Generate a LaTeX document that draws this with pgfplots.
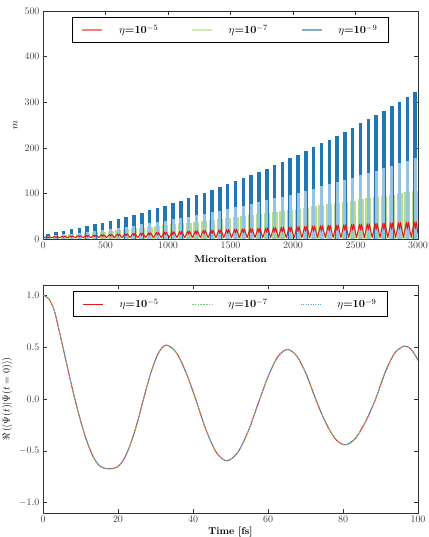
\documentclass[border=0pt]{standalone}
\usepackage{pgfplots}
\usepackage{pgfplotstable}
\pgfplotsset{compat=1.18}

\definecolor{cred}{RGB}{227,26,28}
\definecolor{cgreen}{RGB}{178,223,138}
\definecolor{cblue}{RGB}{31,120,180}
\definecolor{clblue}{RGB}{150,195,226}
\definecolor{dgreen}{RGB}{120,205,120}
\definecolor{dblue}{RGB}{80,165,225}

% peaks of the m(microiteration) bursts: x, blue top, blue light part, green top
\pgfplotstableread{
x b bl g
40 11.8 6.5 5.9
102.5 14.8 8.1 7.3
165 18.0 9.9 8.7
227.5 21.3 11.7 10.2
290 24.7 13.6 11.7
352.5 28.4 15.6 13.3
415 32.1 17.7 14.8
477.5 36.0 19.8 16.4
540 40.1 22.1 18.1
602.5 44.4 24.4 19.7
665 48.8 26.8 21.4
727.5 53.3 29.3 23.1
790 58.0 31.9 24.9
852.5 62.9 34.6 26.7
915 67.9 37.3 28.5
977.5 73.1 40.2 30.3
1040 78.4 43.1 32.2
1102.5 83.9 46.1 34.1
1165 89.6 49.3 36.1
1227.5 95.4 52.5 38.0
1290 101.3 55.7 40.0
1352.5 107.4 59.1 42.1
1415 113.7 62.5 44.1
1477.5 120.2 66.1 46.2
1540 126.7 69.7 48.4
1602.5 133.5 73.4 50.5
1665 140.4 77.2 52.7
1727.5 147.4 81.1 54.9
1790 154.6 85.0 57.2
1852.5 162.0 89.1 59.5
1915 169.5 93.2 61.8
1977.5 177.2 97.5 64.1
2040 185.0 101.8 66.5
2102.5 193.0 106.2 69.0
2165 201.2 110.7 71.4
2227.5 209.5 115.2 73.9
2290 217.9 119.8 76.4
2352.5 226.5 124.6 78.9
2415 235.3 129.4 81.5
2477.5 244.3 134.4 84.1
2540 253.3 139.3 86.7
2602.5 262.6 144.4 89.4
2665 272.0 149.6 92.0
2727.5 281.5 154.8 94.8
2790 291.2 160.2 97.5
2852.5 301.1 165.6 100.3
2915 311.1 171.1 103.1
2977.5 321.3 176.7 106.0
}\bursts

% autocorrelation, identical for all three thresholds
\pgfplotstableread{
t y
0 1.0
1.5 0.97
3 0.855
4.5 0.63
6 0.39
7.3 0.18
8.5 0.0
9.5 -0.14
10.5 -0.27
11.5 -0.385
12.5 -0.485
13.5 -0.565
14.5 -0.622
15.5 -0.655
16.5 -0.670
17.65 -0.673
18.8 -0.670
19.8 -0.655
20.8 -0.622
21.8 -0.565
22.8 -0.485
23.8 -0.385
24.8 -0.27
25.8 -0.14
26.8 0.0
28.83 0.26
30.87 0.45
32.9 0.52
35.5 0.45
38.1 0.26
40.7 0.0
43.47 -0.298
46.23 -0.516
49.0 -0.596
51.93 -0.516
54.87 -0.298
57.8 0.0
60.27 0.239
62.73 0.414
65.2 0.478
67.7 0.414
70.2 0.239
72.7 0.0
75.3 -0.221
77.9 -0.383
80.5 -0.442
83.23 -0.383
85.97 -0.221
88.7 0.0
91.23 0.255
93.77 0.442
96.3 0.51
98.15 0.48
100 0.375
}\overlap

\pgfplotsset{
  panel/.style={
    scale only axis, width=375bp, height=228bp,
    axis line style={black!80, line width=0.8bp},
    tick style={black!80, line width=0.6bp},
    major tick length=4bp,
    tick align=inside,
    tick label style={color=black!75},
    /pgf/number format/1000 sep={},
    legend columns=3,
    legend style={at={(0.5,0.972)}, anchor=north, line width=1bp,
      inner xsep=9bp, inner ysep=5bp,
      font=\fontsize{11}{13}\selectfont,
      /tikz/every odd column/.append style={column sep=14bp},
      /tikz/every even column/.append style={column sep=31bp}},
  },
  % legend samples drawn with explicit colours
  sample/.style={legend image code/.code={\draw[#1] (0bp,0bp) -- (20bp,0bp);}},
}

\begin{document}
\begin{tikzpicture}[font=\fontsize{10}{12}\selectfont]
\useasboundingbox (-43bp,11bp) rectangle (386bp,-526bp);

\begin{axis}[panel, at={(0bp,0bp)}, anchor=north west,
  xmin=0, xmax=3000, ymin=0, ymax=500,
  xtick={0,500,...,3000}, ytick={0,100,...,500},
  xlabel={\textbf{Microiteration}}, ylabel={$m$}]
\addlegendimage{sample={draw=cred!55, line width=1.5bp}}
\addlegendentry{$\eta$\textbf{=10}$^{-5}$}
\addlegendimage{sample={draw=cgreen!65, line width=1.5bp}}
\addlegendentry{$\eta$\textbf{=10}$^{-7}$}
\addlegendimage{sample={draw=cblue!60, line width=1.5bp}}
\addlegendentry{$\eta$\textbf{=10}$^{-9}$}

\addplot[forget plot, ycomb, cgreen, line width=6bp] table[x=x, y=g] {\bursts};
\addplot[forget plot, ycomb, cblue, line width=3.5bp] table[x=x, y=b] {\bursts};
\addplot[forget plot, ycomb, clblue, line width=3bp] table[x=x, y=bl] {\bursts};
\addplot[forget plot, cred, line width=1bp, line join=round] coordinates {
(0,3)
(32,4.5)(40,2.7)(48,4.5)(71,3)
(94.5,5.2)(102.5,3.1)(110.5,5.2)(133.5,3)
(157,5.9)(165,3.5)(173,5.9)(196,3)
(219.5,6.6)(227.5,4.0)(235.5,6.6)(258.5,3)
(282,7.3)(290,4.4)(298,7.3)(321,3)
(344.5,8.0)(352.5,4.8)(360.5,8.0)(383.5,3)
(407,8.7)(415,5.2)(423,8.7)(446,3)
(469.5,9.4)(477.5,5.6)(485.5,9.4)(508.5,3)
(532,10.1)(540,6.1)(548,10.1)(571,3)
(594.5,10.8)(602.5,6.5)(610.5,10.8)(633.5,3)
(657,11.5)(665,6.9)(673,11.5)(696,3)
(719.5,12.2)(727.5,7.3)(735.5,12.2)(758.5,3)
(782,12.9)(790,7.7)(798,12.9)(821,3)
(844.5,13.6)(852.5,8.2)(860.5,13.6)(883.5,3)
(907,14.3)(915,8.6)(923,14.3)(946,3)
(969.5,15.0)(977.5,9.0)(985.5,15.0)(1008.5,3)
(1032,15.8)(1040,9.5)(1048,15.8)(1071,3)
(1094.5,16.5)(1102.5,9.9)(1110.5,16.5)(1133.5,3)
(1157,17.2)(1165,10.3)(1173,17.2)(1196,3)
(1219.5,17.9)(1227.5,10.7)(1235.5,17.9)(1258.5,3)
(1282,18.6)(1290,11.2)(1298,18.6)(1321,3)
(1344.5,19.3)(1352.5,11.6)(1360.5,19.3)(1383.5,3)
(1407,20.0)(1415,12.0)(1423,20.0)(1446,3)
(1469.5,20.7)(1477.5,12.4)(1485.5,20.7)(1508.5,3)
(1532,21.4)(1540,12.8)(1548,21.4)(1571,3)
(1594.5,22.1)(1602.5,13.3)(1610.5,22.1)(1633.5,3)
(1657,22.8)(1665,13.7)(1673,22.8)(1696,3)
(1719.5,23.5)(1727.5,14.1)(1735.5,23.5)(1758.5,3)
(1782,24.2)(1790,14.5)(1798,24.2)(1821,3)
(1844.5,24.9)(1852.5,14.9)(1860.5,24.9)(1883.5,3)
(1907,25.6)(1915,15.4)(1923,25.6)(1946,3)
(1969.5,26.3)(1977.5,15.8)(1985.5,26.3)(2008.5,3)
(2032,27.1)(2040,16.3)(2048,27.1)(2071,3)
(2094.5,27.8)(2102.5,16.7)(2110.5,27.8)(2133.5,3)
(2157,28.5)(2165,17.1)(2173,28.5)(2196,3)
(2219.5,29.2)(2227.5,17.5)(2235.5,29.2)(2258.5,3)
(2282,29.9)(2290,17.9)(2298,29.9)(2321,3)
(2344.5,30.6)(2352.5,18.4)(2360.5,30.6)(2383.5,3)
(2407,31.3)(2415,18.8)(2423,31.3)(2446,3)
(2469.5,32.0)(2477.5,19.2)(2485.5,32.0)(2508.5,3)
(2532,32.7)(2540,19.6)(2548,32.7)(2571,3)
(2594.5,33.4)(2602.5,20.0)(2610.5,33.4)(2633.5,3)
(2657,34.1)(2665,20.5)(2673,34.1)(2696,3)
(2719.5,34.8)(2727.5,20.9)(2735.5,34.8)(2758.5,3)
(2782,35.5)(2790,21.3)(2798,35.5)(2821,3)
(2844.5,36.2)(2852.5,21.7)(2860.5,36.2)(2883.5,3)
(2907,36.9)(2915,22.1)(2923,36.9)(2946,3)
(2969.5,37.6)(2977.5,22.6)(2985.5,37.6)(3000,12)
};
\end{axis}

\begin{axis}[panel, at={(0bp,-274bp)}, anchor=north west,
  xmin=0, xmax=100, ymin=-1.1, ymax=1.1,
  xtick={0,20,...,100}, ytick={-1,-0.5,0,0.5,1},
  yticklabel style={/pgf/number format/.cd, fixed, fixed zerofill, precision=1},
  xlabel={\textbf{Time [fs]}}, xlabel style={yshift=3bp},
  ylabel={$\Re\left(\langle\Psi(t)|\Psi(t=0)\rangle\right)$}]
\addlegendimage{sample={draw=cred, line width=1bp}}
\addlegendentry{$\eta$\textbf{=10}$^{-5}$}
\addlegendimage{sample={draw=dgreen, line width=0.8bp, dash pattern=on 1.6bp off 1.2bp}}
\addlegendentry{$\eta$\textbf{=10}$^{-7}$}
\addlegendimage{sample={draw=dblue, line width=0.8bp, dash pattern=on 0.8bp off 1.6bp}}
\addlegendentry{$\eta$\textbf{=10}$^{-9}$}
\addplot[forget plot, cred, line width=1bp, smooth] table[x=t, y=y] {\overlap};
\addplot[forget plot, dgreen, line width=0.8bp, dash pattern=on 1.6bp off 1.2bp, smooth] table[x=t, y=y] {\overlap};
\addplot[forget plot, dblue, line width=0.8bp, dash pattern=on 0.8bp off 1.6bp, smooth] table[x=t, y=y] {\overlap};
\end{axis}
\end{tikzpicture}
\end{document}
